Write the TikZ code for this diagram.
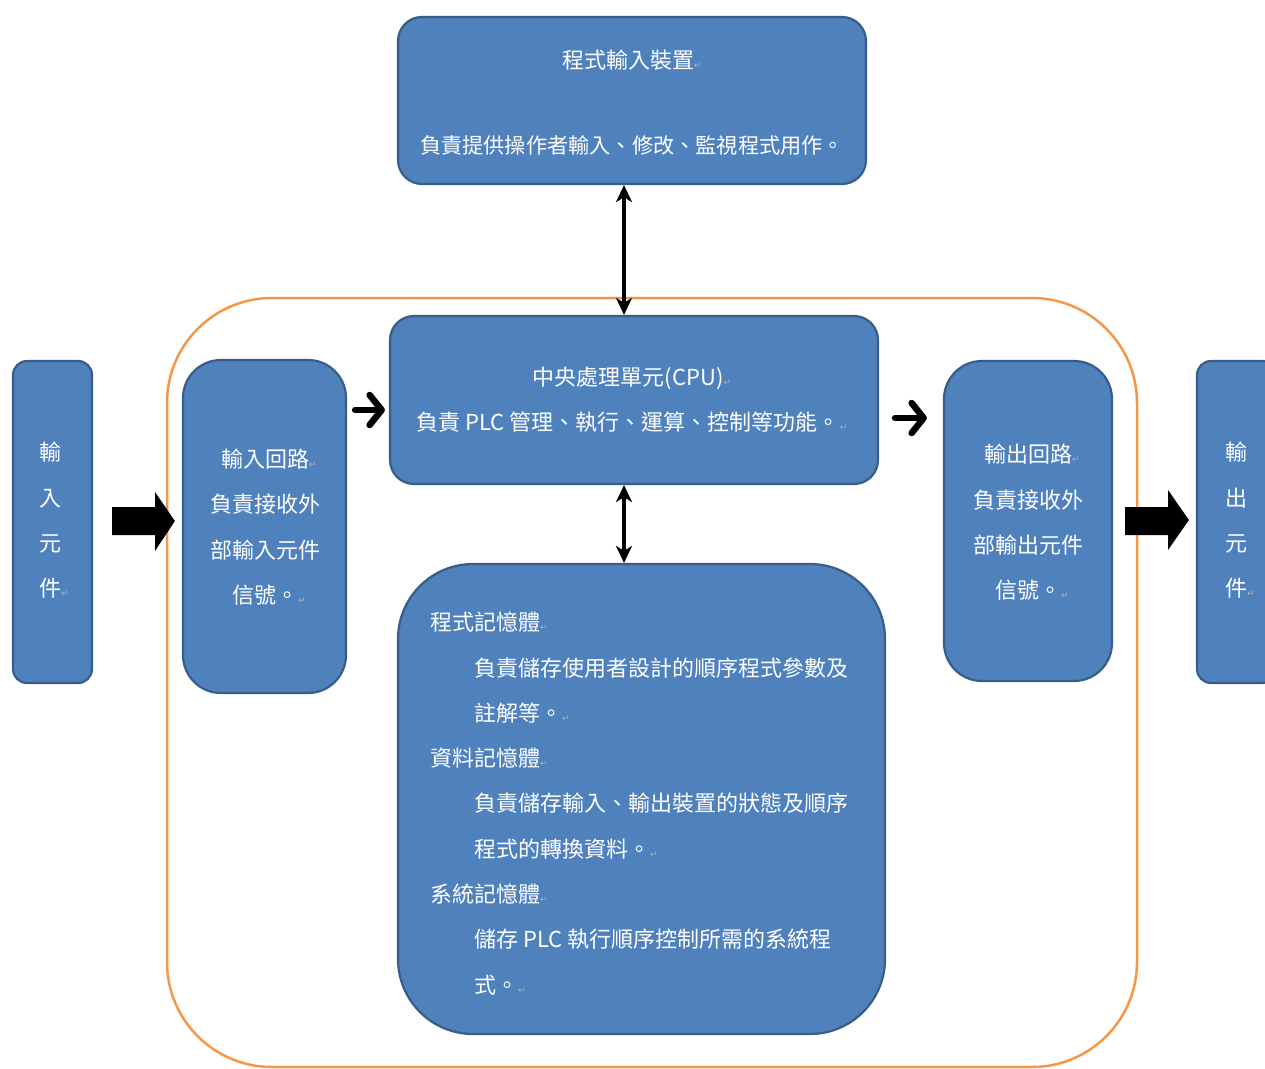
\documentclass[tikz,border=0pt]{standalone}
\usepackage{fontspec}
\newfontfamily\cjk{Noto Sans CJK TC}
\newfontfamily\dejavu{DejaVu Sans}
\usetikzlibrary{arrows.meta}
\definecolor{boxfill}{HTML}{4F81BD}
\definecolor{boxline}{HTML}{385D8A}
\definecolor{orangeline}{HTML}{F79646}
\newcommand\pmk{{\dejavu\fontsize{9}{9}\selectfont\textcolor{black!30}{↵}}}
\tikzset{
  bluebox/.style={draw=boxline, fill=boxfill, line width=2.2pt, inner sep=0pt},
  wtext/.style={text=white, inner sep=0pt, font=\cjk\fontsize{22}{45.3}\selectfont, align=center},
  dblarr/.style={line width=3.5pt, {Stealth[length=17pt,width=16pt,inset=5pt]}-{Stealth[length=17pt,width=16pt,inset=5pt]}},
  smallarr/.style={line width=6.5pt, line cap=round, -{Straight Barb[length=12pt,width=30pt,line width=6.5pt,round]}},
}
\begin{document}
\begin{tikzpicture}[x=1pt,y=-1pt]
\useasboundingbox (0,0) rectangle (1265,1068);
% orange frame
\draw[orangeline, line width=2.5pt, rounded corners=105pt] (167,298) rectangle (1137,1067);
% boxes
\node[bluebox, rounded corners=24pt, minimum width=468pt, minimum height=167pt] (prog) at (632,100.5) {};
\node[bluebox, rounded corners=24pt, minimum width=488pt, minimum height=168pt] (cpu) at (634,400) {};
\node[bluebox, rounded corners=14pt, minimum width=79pt, minimum height=322pt] (inel) at (52.5,522) {};
\node[bluebox, rounded corners=38pt, minimum width=163pt, minimum height=333pt] (inloop) at (264.5,526.5) {};
\node[bluebox, rounded corners=38pt, minimum width=168pt, minimum height=320pt] (outloop) at (1028,521) {};
\node[bluebox, rounded corners=14pt, minimum width=79pt, minimum height=322pt] (outel) at (1236.5,522) {};
\node[bluebox, rounded corners=75pt, minimum width=487pt, minimum height=470pt] (mem) at (641.5,799) {};
% texts
\node[wtext] (progT1) at (632,60) {程式輸入裝置\pmk};
\node[wtext, font=\cjk\fontsize{21.2}{30}\selectfont] (progT2) at (632,145) {負責提供操作者輸入、修改、監視程式用作。};
\node[wtext] (cpuT) at (632,399.5) {中央處理單元(CPU)\pmk\\負責 PLC 管理、執行、運算、控制等功能。\pmk};
\node[wtext] (inelT) at (50,520.5) {輸\\入\\元\\件\rlap{\pmk}};
\node[wtext] (inloopT) at (265,527) {輸入回路\rlap{\pmk}\\負責接收外\\部輸入元件\\信號。\rlap{\pmk}};
\node[wtext] (outloopT) at (1028,522.5) {輸出回路\rlap{\pmk}\\負責接收外\\部輸出元件\\信號。\rlap{\pmk}};
\node[wtext] (outelT) at (1236,520.5) {輸\\出\\元\\件\rlap{\pmk}};
\node[wtext, align=left, anchor=west] (memT) at (430,803.5) {程式記憶體\pmk\\
\hspace*{44pt}負責儲存使用者設計的順序程式參數及\\
\hspace*{44pt}註解等。\pmk\\
資料記憶體\pmk\\
\hspace*{44pt}負責儲存輸入、輸出裝置的狀態及順序\\
\hspace*{44pt}程式的轉換資料。\pmk\\
系統記憶體\pmk\\
\hspace*{44pt}儲存 PLC 執行順序控制所需的系統程\\
\hspace*{44pt}式。\pmk};
% connectors
\coordinate (ax) at (624,0);
\coordinate (ya) at (0,410);
\coordinate (yb) at (0,418);
\draw[dblarr] (prog.south -| ax) -- (cpu.north -| ax);
\draw[dblarr] (cpu.south -| ax) -- (mem.north -| ax);
\draw[smallarr, shorten <=8pt, shorten >=4pt] (inloop.east |- ya) -- (cpu.west |- ya);
\draw[smallarr, shorten <=16pt, shorten >=16pt] (cpu.east |- yb) -- (outloop.west |- yb);
% block arrows
\fill[black] ([xshift=19pt]inel.east |- 0,507) -- (155,507) -- (155,492) -- ([xshift=-7pt]inloop.west |- 0,521) -- (155,551) -- (155,535) -- ([xshift=19pt]inel.east |- 0,535) -- cycle;
\fill[black] ([xshift=12pt]outloop.east |- 0,507) -- (1168,507) -- (1168,490) -- ([xshift=-7pt]outel.west |- 0,520) -- (1168,550) -- (1168,535) -- ([xshift=12pt]outloop.east |- 0,535) -- cycle;
\end{tikzpicture}
\end{document}
